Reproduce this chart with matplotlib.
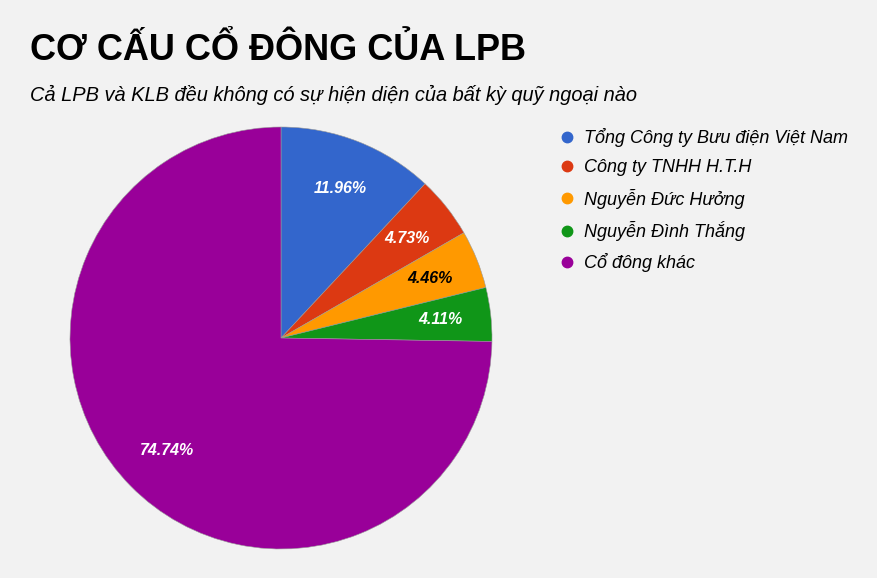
import matplotlib
matplotlib.use("Agg")
import matplotlib.pyplot as plt
from matplotlib.lines import Line2D

plt.rcParams['font.family'] = ['Liberation Sans', 'DejaVu Sans']

# data
labels = ["Tổng Công ty Bưu điện Việt Nam", "Công ty TNHH H.T.H",
          "Nguyễn Đức Hưởng", "Nguyễn Đình Thắng", "Cổ đông khác"]
shares = [11.96, 4.73, 4.46, 4.11, 74.74]
colors = ["#3366cc", "#dc3912", "#ff9900", "#109618", "#990099"]
label_colors = ["white", "white", "black", "white", "white"]

W, H = 877, 578
fig = plt.figure(figsize=(W / 100, H / 100), dpi=100)
fig.patch.set_facecolor("#f2f2f2")

fig.text(30 / W, 1 - 50 / H, "CƠ CẤU CỔ ĐÔNG CỦA LPB", fontsize=26,
         fontweight="bold", va="center", ha="left", color="black")
fig.text(30 / W, 1 - 95 / H, "Cả LPB và KLB đều không có sự hiện diện của bất kỳ quỹ ngoại nào",
         fontsize=14.4, style="italic", va="center", ha="left", color="black")

cx, cy, r = 281, 338, 211
ax = fig.add_axes([(cx - r) / W, (H - cy - r) / H, 2 * r / W, 2 * r / H])
wedges, texts = ax.pie(shares, colors=colors, startangle=90, counterclock=False,
                       labels=[f"{v:.2f}%" for v in shares], labeldistance=0.76,
                       wedgeprops=dict(edgecolor="#9a9a9a", linewidth=0.4))
for t, c in zip(texts, label_colors):
    t.set_color(c)
    t.set_fontsize(11.5)
    t.set_style("italic")
    t.set_fontweight("bold")
    t.set_ha("center")
    t.set_va("center")
ax.set_xlim(-1, 1)
ax.set_ylim(-1, 1)
ax.set_aspect("equal")

handles = [Line2D([], [], marker="o", linestyle="", markersize=7.5,
                  markerfacecolor=c, markeredgecolor=c) for c in colors]
leg = fig.legend(handles, labels, loc="upper left",
                 bbox_to_anchor=(558 / W, 1 - 128 / H), frameon=False,
                 prop=dict(size=13, style="italic"), labelspacing=0.68,
                 handlelength=1.0, handletextpad=0.45, borderpad=0, borderaxespad=0)

fig.savefig("out.png", dpi=100, facecolor=fig.get_facecolor())
